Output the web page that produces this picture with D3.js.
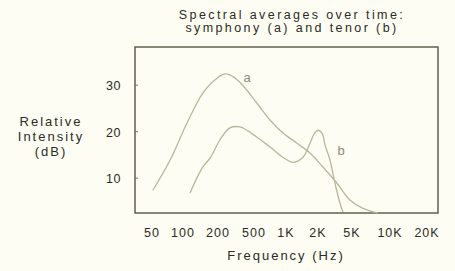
<!DOCTYPE html>
<html>
<head>
<meta charset="utf-8">
<script src="https://cdn.jsdelivr.net/npm/d3@7"></script>
<style>
  html, body { margin: 0; padding: 0; background: #fdfdf3; }
  svg text { font-family: "Liberation Sans", Arial, sans-serif; fill: #2b2b24; }
</style>
</head>
<body>
<div id="chart"></div>
<script>
// tick labels along the frequency axis (Hz)
var freqTicks = [50, 100, 200, 500, 1000, 2000, 5000, 10000, 20000];
var freqLabels = ["50", "100", "200", "500", "1K", "2K", "5K", "10K", "20K"];
var dbTicks = [10, 20, 30];

// symphony (a): [frequency Hz, dB]
var symphony = [
  [51, 7.4], [75, 13.9], [108, 21.8], [148, 28.3], [196, 31.5], [238, 32.4],
  [271, 32.2], [349, 30.6], [534, 26.1], [707, 22.5], [937, 19.7], [1270, 17.5],
  [1680, 15.4], [2280, 12.4], [3340, 8.9], [4720, 5.3], [6110, 3.5], [8030, 2.5]
];
// tenor (b)
var tenor = [
  [115, 6.8], [148, 12.4], [171, 14.3], [210, 18.2], [271, 20.8], [349, 21.0],
  [534, 18.8], [707, 16.7], [937, 14.5], [1160, 13.4], [1445, 14.5], [1680, 17.5],
  [1850, 19.6], [2000, 20.3], [2230, 19.7], [2420, 17.1], [2760, 13.9],
  [3160, 8.9], [3620, 4.6], [3920, 2.7]
];

var width = 455, height = 271;
var frame = { left: 135, right: 438, top: 47, bottom: 213 };

var svg = d3.select("#chart").append("svg")
    .attr("width", width)
    .attr("height", height);

// labels on the printed axis sit at these centres, so the log scale is piecewise
var x = d3.scaleLog()
    .domain(freqTicks)
    .range([152, 183, 218, 254, 286, 318, 352, 390, 427]);

var y = d3.scaleLinear()
    .domain([2.5, 38.2])
    .range([frame.bottom, frame.top]);

// frame
svg.append("rect")
    .attr("x", frame.left)
    .attr("y", frame.top)
    .attr("width", frame.right - frame.left)
    .attr("height", frame.bottom - frame.top)
    .attr("fill", "none")
    .attr("stroke", "#55553f")
    .attr("stroke-width", 1.4);

// small inward ticks on the left edge
svg.selectAll(".ytick").data(dbTicks)
  .enter().append("line")
    .attr("x1", frame.left).attr("x2", frame.left + 3)
    .attr("y1", d => y(d)).attr("y2", d => y(d))
    .attr("stroke", "#77775f")
    .attr("stroke-width", 1);

var line = d3.line()
    .x(d => x(d[0]))
    .y(d => y(d[1]))
    .curve(d3.curveCatmullRom.alpha(0.5));

svg.selectAll(".series").data([symphony, tenor])
  .enter().append("path")
    .attr("d", line)
    .attr("fill", "none")
    .attr("stroke", "#b7b79e")
    .attr("stroke-width", 1.3);

// curve labels
svg.append("text")
    .attr("x", 247).attr("y", 82)
    .attr("text-anchor", "middle")
    .style("font-size", "13px")
    .style("fill", "#8c8c78")
    .text("a");
svg.append("text")
    .attr("x", 341).attr("y", 155)
    .attr("text-anchor", "middle")
    .style("font-size", "13px")
    .style("fill", "#8c8c78")
    .text("b");

// y tick labels
svg.selectAll(".ylab").data(dbTicks)
  .enter().append("text")
    .attr("x", 121)
    .attr("y", d => y(d) + 5)
    .attr("text-anchor", "end")
    .style("font-size", "12.5px")
    .style("letter-spacing", "0.5px")
    .text(d => d);

// x tick labels
svg.selectAll(".xlab").data(freqTicks)
  .enter().append("text")
    .attr("x", d => x(d))
    .attr("y", 237)
    .attr("text-anchor", "middle")
    .style("font-size", "12.5px")
    .style("letter-spacing", "1px")
    .text((d, i) => freqLabels[i]);

// titles
var title = svg.append("text")
    .attr("text-anchor", "middle")
    .style("font-size", "12.5px")
    .style("letter-spacing", "2.4px");
title.append("tspan").attr("x", 292).attr("y", 19).text("Spectral averages over time:");
title.append("tspan").attr("x", 292).attr("y", 32).text("symphony (a) and tenor (b)");

var ylabel = svg.append("text")
    .attr("text-anchor", "middle")
    .style("font-size", "13px")
    .style("letter-spacing", "2px");
ylabel.append("tspan").attr("x", 51).attr("y", 126).text("Relative");
ylabel.append("tspan").attr("x", 51).attr("y", 141).text("Intensity");
ylabel.append("tspan").attr("x", 51).attr("y", 156).text("(dB)");

svg.append("text")
    .attr("x", 286).attr("y", 260)
    .attr("text-anchor", "middle")
    .style("font-size", "13px")
    .style("letter-spacing", "2px")
    .text("Frequency (Hz)");
</script>
</body>
</html>
